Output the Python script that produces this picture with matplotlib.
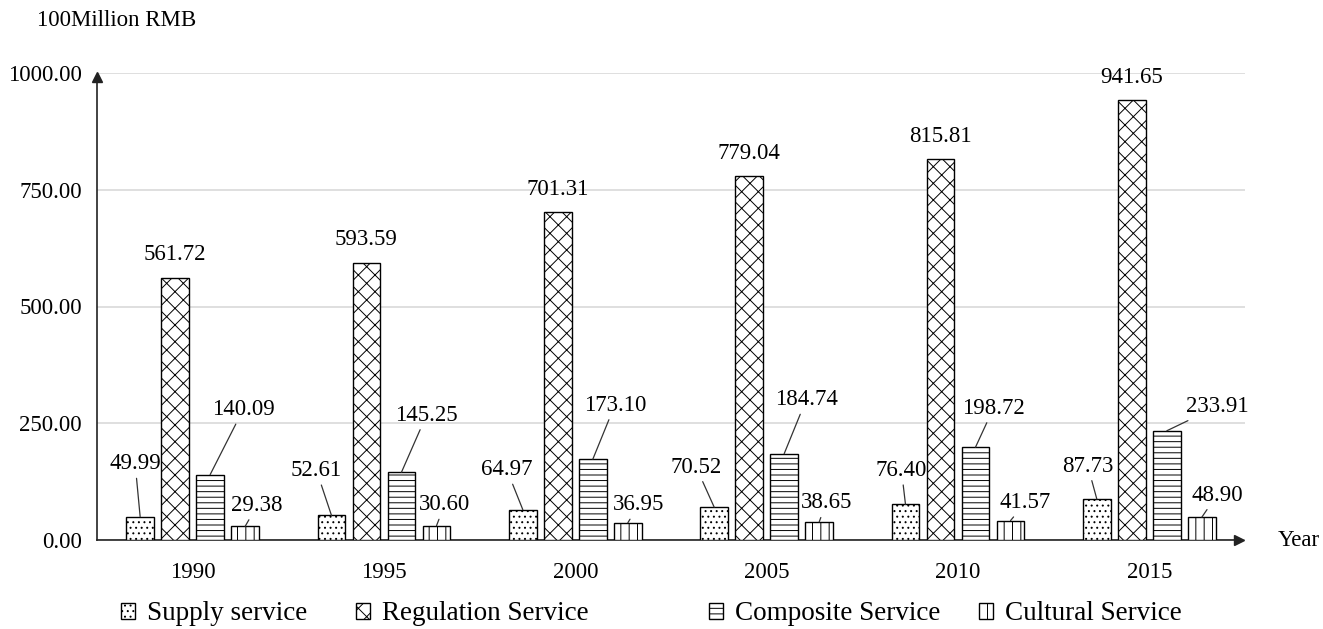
import matplotlib
matplotlib.use("Agg")
import matplotlib.pyplot as plt
import numpy as np

years = ["1990", "1995", "2000", "2005", "2010", "2015"]
supply = [49.99, 52.61, 64.97, 70.52, 76.40, 87.73]
regulation = [561.72, 593.59, 701.31, 779.04, 815.81, 941.65]
composite = [140.09, 145.25, 173.10, 184.74, 198.72, 233.91]
cultural = [29.38, 30.60, 36.95, 38.65, 41.57, 48.90]
series_names = ["Supply service", "Regulation Service", "Composite Service", "Cultural Service"]

# label placement (pixel offsets of the label centre from the bar top)
supply_off = [(-5, 53), (-15, 45), (-16, 40), (-18, 40), (-4, 34), (-9, 33)]
composite_off = [(33, 65), (25, 57), (22, 54), (22, 54), (18, 39), (50, 24)]
cultural_off = [(12, 21), (8, 21), (11, 18), (7, 19), (15, 18), (15, 22)]

plt.rcParams["font.family"] = ["Liberation Serif", "DejaVu Serif"]
plt.rcParams["hatch.linewidth"] = 0.7
FS = 16.5
LEG_FS = 19.5

W, H = 1323, 629
fig = plt.figure(figsize=(W / 100, H / 100), dpi=100)
x0, x1, y0, y1 = 97, 1245, 540, 73
ax = fig.add_axes([x0 / W, 1 - y0 / H, (x1 - x0) / W, (y0 - y1) / H])

x = np.arange(len(years))
bw = 0.146
step = 0.183
hatches = ["...", "xx", "---", "||"]
data = [supply, regulation, composite, cultural]
containers = []
for i, (vals, h) in enumerate(zip(data, hatches)):
    c = ax.bar(x + (i - 1.5) * step, vals, bw, facecolor="white",
               edgecolor="black", linewidth=1.0, hatch=h, zorder=3,
               label=series_names[i])
    containers.append(c)

ax.set_xlim(-0.5, 5.5)
ax.set_ylim(0, 1000)
ticks = [0, 250, 500, 750, 1000]
ax.set_yticks(ticks)
ax.set_yticklabels([f"{v:.2f}" for v in ticks], fontsize=FS)
ax.set_xticks(x)
ax.set_xticklabels(years, fontsize=FS)
ax.tick_params(axis="both", length=0)
ax.tick_params(axis="x", pad=16)
ax.tick_params(axis="y", pad=11)
ax.grid(axis="y", color="#d9d9d9", linewidth=1.2, zorder=0)
for s in ["top", "right"]:
    ax.spines[s].set_visible(False)
for s in ["left", "bottom"]:
    ax.spines[s].set_linewidth(1.2)
    ax.spines[s].set_color("#222222")
ax.spines["bottom"].set_bounds(-0.5, 5.44)
ax.spines["left"].set_bounds(0, 985)
ax.plot(0.995, 0, ">", color="#222222", markersize=7, transform=ax.transAxes,
        clip_on=False, zorder=5)
ax.plot(0, 0.992, "^", color="#222222", markersize=7, transform=ax.transAxes,
        clip_on=False, zorder=5)


def label(container, vals, offs=None, above=23):
    for k, (rect, v) in enumerate(zip(container.patches, vals)):
        cx = rect.get_x() + rect.get_width() / 2
        if offs is None:
            ax.annotate(f"{v:.2f}", (cx, v), xytext=(0, above),
                        textcoords="offset pixels", ha="center", va="center",
                        fontsize=FS, zorder=6)
        else:
            dx, dy = offs[k]
            ax.annotate(f"{v:.2f}", (cx, v), xytext=(dx, dy),
                        textcoords="offset pixels", ha="center", va="center",
                        fontsize=FS, zorder=6,
                        arrowprops=dict(arrowstyle="-", color="#333333",
                                        linewidth=0.9, shrinkA=1, shrinkB=0))


label(containers[0], supply, supply_off)
label(containers[1], regulation)
label(containers[2], composite, composite_off)
label(containers[3], cultural, cultural_off)

fig.text(37 / W, 1 - 20 / H, "100Million RMB", fontsize=FS, ha="left", va="center")
fig.text(1278 / W, 1 - 541 / H, "Year", fontsize=FS, ha="left", va="center")

# legend entries along the bottom
leg_x = [121, 356, 709, 979]
for c, name, lx in zip(containers, series_names, leg_x):
    fig.legend([c], [name], loc="center left",
               bbox_to_anchor=(lx / W, 1 - 614 / H), frameon=False,
               fontsize=LEG_FS, handlelength=0.52, handleheight=0.52,
               handletextpad=0.45, borderpad=0, borderaxespad=0)

fig.savefig("out.png", dpi=100)
